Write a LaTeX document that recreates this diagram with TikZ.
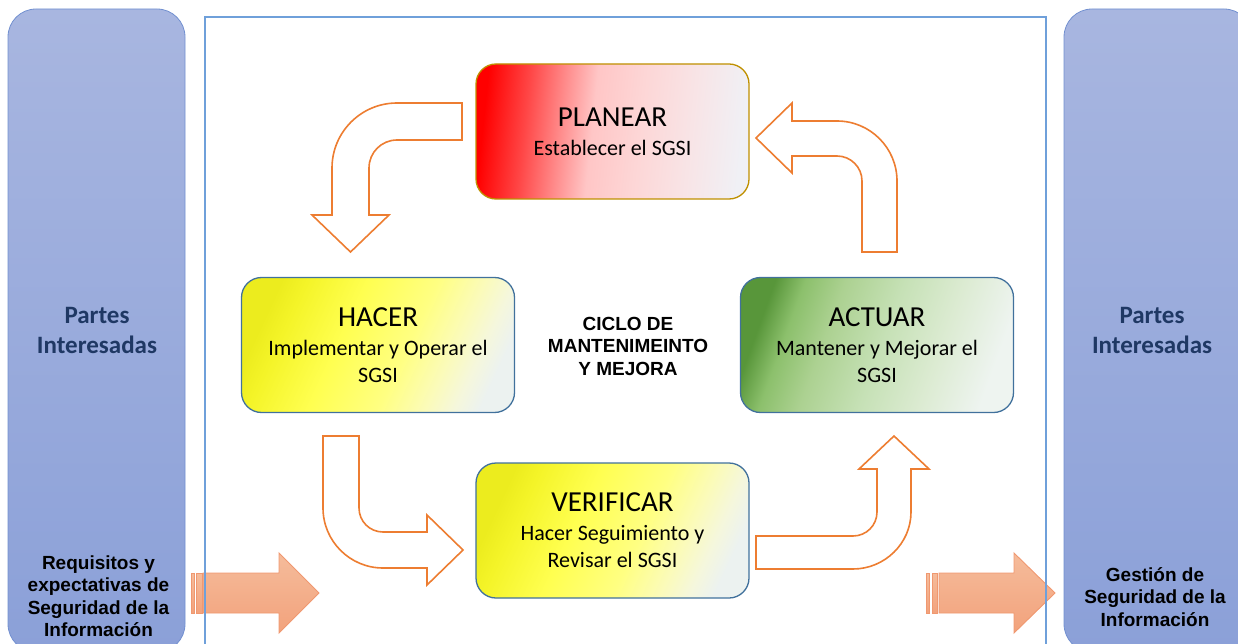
\documentclass[tikz,border=0pt]{standalone}
\usepackage{fontspec}
\setmainfont{Carlito}
\newfontfamily\arialfont{Liberation Sans}

\definecolor{panelTop}{RGB}{168,182,224}
\definecolor{panelBot}{RGB}{139,160,216}
\definecolor{panelLine}{RGB}{114,144,208}
\definecolor{frameBlue}{RGB}{111,160,218}
\definecolor{arrowLine}{RGB}{237,125,49}
\definecolor{fatTop}{RGB}{245,188,155}
\definecolor{fatBot}{RGB}{242,162,124}
\definecolor{fatLine}{RGB}{240,152,112}
\definecolor{navy}{RGB}{31,56,100}
\definecolor{goldLine}{RGB}{191,144,0}
\definecolor{steelLine}{RGB}{65,113,156}

% colour stops of the three phase gradients
\definecolor{rA}{RGB}{255,0,0}
\definecolor{rB}{RGB}{255,70,70}
\definecolor{rC}{RGB}{255,140,140}
\definecolor{rD}{RGB}{255,198,198}
\definecolor{rE}{RGB}{253,214,214}
\definecolor{rF}{RGB}{248,228,230}
\definecolor{rG}{RGB}{240,240,245}
\definecolor{yA}{RGB}{236,236,30}
\definecolor{yB}{RGB}{244,244,40}
\definecolor{yC}{RGB}{255,255,80}
\definecolor{yD}{RGB}{255,255,130}
\definecolor{yE}{RGB}{251,251,184}
\definecolor{yF}{RGB}{245,247,220}
\definecolor{yG}{RGB}{236,242,240}
\definecolor{gA}{RGB}{88,150,58}
\definecolor{gB}{RGB}{140,192,108}
\definecolor{gC}{RGB}{172,209,145}
\definecolor{gD}{RGB}{198,225,182}
\definecolor{gE}{RGB}{220,235,210}
\definecolor{gF}{RGB}{238,244,240}

\pgfdeclarehorizontalshading{planshade}{100bp}{color(0bp)=(rA); color(25bp)=(rA); color(33bp)=(rB); color(40bp)=(rC); color(46bp)=(rD); color(55bp)=(rE); color(65bp)=(rF); color(75bp)=(rG); color(100bp)=(rG)}
\pgfdeclarehorizontalshading{yellowshade}{100bp}{color(0bp)=(yA); color(25bp)=(yA); color(30bp)=(yB); color(42bp)=(yC); color(56bp)=(yD); color(65bp)=(yE); color(71bp)=(yF); color(76bp)=(yG); color(100bp)=(yG)}
\pgfdeclarehorizontalshading{greenshade}{100bp}{color(0bp)=(gA); color(25bp)=(gA); color(31bp)=(gB); color(39bp)=(gC); color(51bp)=(gD); color(63bp)=(gE); color(75bp)=(gF); color(100bp)=(gF)}

\newcommand\phtitle[1]{{\fontsize{29}{29}\selectfont #1}}

\begin{document}
\begin{tikzpicture}[x=1pt,y=-1pt,
  panel/.style={draw=panelLine, line width=0.8pt, rounded corners=28pt,
    top color=panelTop, bottom color=panelBot},
  frame/.style={draw=frameBlue, line width=1.3pt},
  phase/.style={draw, line width=1.3pt, rounded corners=20pt,
    minimum width=273pt, minimum height=135pt, inner sep=0pt,
    align=center, font=\fontsize{22}{27}\selectfont},
  uturn/.style={draw=arrowLine, line width=1.6pt, fill=white, line join=miter},
  fat/.style={draw=fatLine, line width=0.9pt, top color=fatTop, bottom color=fatBot},
  sidehead/.style={font=\bfseries\fontsize{25}{30}\selectfont, text=navy, align=center},
  sidenote/.style={font=\arialfont\bfseries\fontsize{19}{22.5}\selectfont, align=center},
]
\useasboundingbox (0,0) rectangle (1238,644);
\clip (0,0) rectangle (1238,644);

% side panels
\path[panel] (8,9) rectangle (185,652);
\path[panel] (1064,9) rectangle (1252,652);

% curved arrows of the cycle
\path[uturn] (462,103) -- (397,103) .. controls (361.1,103) and (332,132.1) .. (332,168)
  -- (332,215) -- (312,215) -- (350.5,252) -- (389,215) -- (369,215) -- (369,168)
  .. controls (369,152.5) and (381.5,140) .. (397,140) -- (462,140) -- cycle;
\path[uturn] (756,138) -- (792,103) -- (792,121) -- (837,121)
  .. controls (870.1,121) and (897,147.9) .. (897,181) -- (897,252) -- (862,252) -- (862,181)
  .. controls (862,167.2) and (850.8,156) .. (837,156) -- (792,156) -- (792,173) -- cycle;
\path[uturn] (323,436) -- (359,436) -- (359,508) .. controls (359,521.3) and (369.7,532) .. (383,532)
  -- (427,532) -- (427,515) -- (463,550) -- (427,585) -- (427,568) -- (383,568)
  .. controls (349.9,568) and (323,541.1) .. (323,508) -- cycle;
\path[uturn] (756,536) -- (853,536) .. controls (866.3,536) and (877,525.3) .. (877,512)
  -- (877,469) -- (859,469) -- (894,436) -- (929,469) -- (911,469) -- (911,512)
  .. controls (911,543.5) and (884.5,569) .. (853,569) -- (756,569) -- cycle;

% phases
\node[phase, draw=goldLine, shading=planshade, shading angle=-6] (plan) at (612.5,131.5)
  {\phtitle{PLANEAR}\\[2pt]Establecer el SGSI};
\node[phase, draw=steelLine, shading=yellowshade, shading angle=-25] (do) at (378,345)
  {\phtitle{HACER}\\[2pt]Implementar y Operar el\\SGSI};
\node[phase, draw=steelLine, shading=greenshade, shading angle=-20] (act) at (877,345)
  {\phtitle{ACTUAR}\\[2pt]Mantener y Mejorar el\\SGSI};
\node[phase, draw=steelLine, shading=yellowshade, shading angle=-25] (check) at (612.5,530.5)
  {\phtitle{VERIFICAR}\\[2pt]Hacer Seguimiento y\\Revisar el SGSI};

% input and output arrows
\path[fat] (191,573) rectangle (194,613);
\path[fat] (196,573) rectangle (202,613);
\path[fat] (203,573) -- (279,573) -- (279,553) -- (319,593) -- (279,633) -- (279,613) -- (203,613) -- cycle;
\path[fat] (926,573) rectangle (929,613);
\path[fat] (932,573) rectangle (937,613);
\path[fat] (939,573) -- (1014,573) -- (1014,553) -- (1055,593) -- (1014,633) -- (1014,613) -- (939,613) -- cycle;

% central frame
\draw[frame] (205,660) -- (205,17) -- (1046,17) -- (1046,660);

% texts
\node[font=\arialfont\bfseries\fontsize{19}{22.5}\selectfont, align=center] (cycle) at (628,346)
  {CICLO DE\\MANTENIMEINTO\\Y MEJORA};
\node[sidehead] (leftHead) at (97,330) {Partes\\Interesadas};
\node[sidehead] (rightHead) at (1152,330) {Partes\\Interesadas};
\node[sidenote] (needs) at (98.5,596) {Requisitos y\\expectativas de\\Seguridad de la\\Información};
\node[sidenote] (result) at (1155,597) {Gestión de\\Seguridad de la\\Información};
\end{tikzpicture}
\end{document}
